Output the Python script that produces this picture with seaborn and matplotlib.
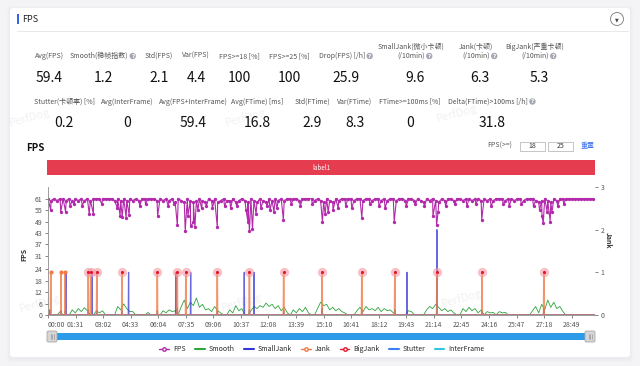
import numpy as np
import seaborn as sns
import matplotlib.pyplot as plt
from matplotlib.patches import Rectangle, FancyBboxPatch, Circle
from matplotlib.lines import Line2D

# ---- summary numbers ----
row1_labels = ['Avg(FPS)', 'Smooth(稳帧指数)', 'Std(FPS)', 'Var(FPS)', 'FPS>=18 [%]', 'FPS>=25 [%]',
               'Drop(FPS) [/h]', 'SmallJank(微小卡顿)\n(/10min)', 'Jank(卡顿)\n(/10min)', 'BigJank(严重卡顿)\n(/10min)']
row1_values = ['59.4', '1.2', '2.1', '4.4', '100', '100', '25.9', '9.6', '6.3', '5.3']
row1_help = [False, True, False, False, False, False, True, True, True, True]
row2_labels = ['Stutter(卡顿率) [%]', 'Avg(InterFrame)', 'Avg(FPS+InterFrame)', 'Avg(FTime) [ms]',
               'Std(FTime)', 'Var(FTime)', 'FTime>=100ms [%]', 'Delta(FTime)>100ms [/h]']
row2_values = ['0.2', '0', '59.4', '16.8', '2.9', '8.3', '0', '31.8']
row2_help = [False, False, False, False, False, False, False, True]

# ---- FPS: steady samples every 10 s, plus the single-second drops ----
fps_band = [61, 60, 61, 60, 61, 61, 60, 61, 60, 61,
            60, 61, 60, 61, 60, 61, 61, 61, 61, 61,
            61, 61, 60, 61, 60, 61, 60, 61, 60, 61,
            60, 61, 61, 61, 61, 61, 60, 61, 60, 61,
            60, 61, 59, 61, 60, 59, 61, 60, 59, 60,
            61, 60, 59, 61, 60, 61, 59, 60, 61, 60,
            60, 61, 59, 60, 61, 60, 59, 61, 60, 59,
            61, 60, 59, 61, 60, 61, 60, 61, 60, 61,
            61, 61, 61, 60, 61, 61, 61, 61, 60, 61,
            60, 59, 61, 60, 59, 61, 60, 61, 61, 61,
            61, 60, 61, 61, 60, 61, 61, 60, 61, 61,
            60, 61, 60, 61, 61, 60, 61, 61, 60, 61,
            61, 60, 61, 60, 59, 61, 60, 61, 60, 59,
            61, 60, 61, 61, 60, 61, 61, 60, 61, 61,
            60, 61, 61, 60, 61, 60, 61, 60, 61, 61,
            61, 60, 61, 61, 60, 61, 61, 60, 61, 61,
            61, 60, 59, 60, 61, 60, 59, 61, 60, 61,
            61, 61, 61, 61, 61, 61, 61, 61, 61, 61, 61]
band_step = 10
drop_sec = [9, 42, 58, 73, 86, 113, 136, 150, 178, 229, 238, 245, 258, 268, 303, 322, 362, 397, 417,
            427, 453, 462, 471, 480, 485, 495, 507, 523, 543, 559, 583, 603, 623, 654, 660, 665, 675,
            687, 703, 723, 733, 746, 756, 777, 803, 833, 873, 906, 915, 925, 941, 958, 983, 1003,
            1036, 1063, 1093, 1113, 1143, 1183, 1213, 1243, 1271, 1283, 1288, 1313, 1343, 1383, 1413,
            1432, 1463, 1503, 1523, 1563, 1603, 1623, 1631, 1635, 1648, 1658, 1664, 1683, 1703]
drop_fps = [55, 54, 54, 57, 58, 57, 53, 53, 58, 56, 52, 51.5, 51, 52.5, 57, 58, 52, 57, 58,
            47, 44, 52, 46.5, 48.5, 46, 55, 56, 57, 56, 46, 57, 56, 57, 55, 49, 44, 45,
            53, 56, 57, 55, 54, 56, 50, 58, 57, 58, 49, 53, 54, 55, 56, 57, 56,
            51, 58, 57, 56, 49, 57, 58, 57, 52, 47, 54, 57, 58, 57, 58,
            50, 57, 58, 57, 58, 57, 55, 52, 48, 54, 49, 54, 57, 58]

# ---- Smooth index (10 s samples) ----
smooth = [0, 0, 0, 0, 0.08, 0, 0, 0, 0.12, 0.05,
          0.15, 0.08, 0.17, 0.1, 0, 0, 0.1, 0.05, 0.1, 0,
          0, 0, 0, 0.2, 0.12, 0.26, 0.15, 0.08, 0.08, 0,
          0, 0, 0, 0.06, 0, 0, 0, 0, 0.1, 0.05,
          0.12, 0.08, 0.1, 0, 0.2, 0.35, 0.15, 0.3, 0.22, 0.4,
          0.18, 0.25, 0.12, 0.15, 0.08, 0.2, 0.1, 0.05, 0, 0,
          0.12, 0.05, 0.22, 0.1, 0.15, 0, 0, 0.1, 0.2, 0.15,
          0.22, 0.18, 0.28, 0.2, 0.25, 0.15, 0.22, 0.1, 0.18, 0.05,
          0, 0.12, 0.05, 0.15, 0.08, 0.18, 0.05, 0, 0, 0.15,
          0.3, 0.22, 0.25, 0.12, 0.18, 0.1, 0.15, 0.08, 0.05, 0,
          0, 0, 0.1, 0.18, 0.08, 0.2, 0.12, 0.15, 0.1, 0.18,
          0.08, 0.15, 0.1, 0.12, 0.05, 0, 0, 0, 0, 0.1,
          0.08, 0, 0, 0, 0, 0.12, 0.2, 0.15, 0.25, 0.18,
          0.1, 0.15, 0.08, 0.12, 0.05, 0, 0, 0.15, 0.08, 0.18,
          0.1, 0.15, 0.05, 0.12, 0, 0.08, 0.05, 0.06, 0, 0.08,
          0.05, 0.06, 0, 0, 0, 0, 0, 0, 0, 0,
          0.1, 0.2, 0.05, 0.25, 0.12, 0.35, 0.18, 0.3, 0.15, 0.2,
          0.08, 0, 0, 0, 0, 0, 0, 0, 0, 0, 0]

# ---- jank events (seconds) ----
jank_only_s = [9, 43, 57]
bigjank_s = [133, 141, 161, 244, 361, 427, 455, 559, 665, 778, 905, 1036, 1145, 1284, 1433, 1637]
smalljank_s = [59, 145, 266, 422, 471, 648, 680, 1185, 1284]
smalljank_h = [1, 1, 1, 1, 1, 1, 1, 1, 2]
stutter_s = [6, 43, 57, 133, 161, 244, 361, 427, 559, 665, 778, 905, 1036, 1145, 1284, 1433, 1637]
stutter_h = [0.12, 0.1, 0.1, 0.12, 0.1, 0.1, 0.1, 0.15, 0.1, 0.12, 0.1, 0.15, 0.1, 0.12, 0.15, 0.1, 0.15]

time_labels = ['00:00', '01:31', '03:02', '04:33', '06:04', '07:35', '09:06', '10:37', '12:08', '13:39',
               '15:10', '16:41', '18:12', '19:43', '21:14', '22:45', '24:16', '25:47', '27:18', '28:49']
fps_ticks = [0, 6, 12, 18, 24, 31, 37, 43, 49, 55, 61]
jank_ticks = [0, 1, 2, 3]
duration = 1806

C_FPS = '#b22aab'
C_SMOOTH = '#2ea43a'
C_SMALL = '#3535d8'
C_JANK = '#f27a46'
C_BIG = '#e8132c'
C_STUT = '#3d7ff2'
C_INTER = '#2fc6de'

sns.set_theme(style='white')
plt.rcParams['font.family'] = ['Noto Sans CJK SC', 'DejaVu Sans']

fig = plt.figure(figsize=(6.4, 3.66), dpi=100, facecolor='#f4f4f6')
ov = fig.add_axes([0, 0, 1, 1], zorder=0)
ov.set_xlim(0, 640)
ov.set_ylim(366, 0)
ov.axis('off')

# card
for i, a in enumerate([0.05, 0.05, 0.06]):
    ov.add_patch(FancyBboxPatch((10 - i - 1, 8 - i), 620 + 2 * i + 2, 350 + 2 * i + 2,
                                boxstyle='round,pad=0,rounding_size=4', fc='#c8c8d0', ec='none', alpha=a))
ov.add_patch(FancyBboxPatch((10, 8), 620, 349, boxstyle='round,pad=0,rounding_size=3', fc='white', ec='none'))
ov.add_patch(Rectangle((17, 14), 2, 10, fc='#3563f0', ec='none'))
ov.text(22, 19, 'FPS', fontsize=6.5, color='#222', va='center')
ov.plot([17, 628], [31, 31], color='#e8e8e8', lw=0.7)
ov.add_patch(Circle((617, 19), 6.5, fc='white', ec='#8a8a8a', lw=0.7))
ov.text(617, 19.5, '▼', fontsize=3.5, color='#444', ha='center', va='center', family='DejaVu Sans')

# watermarks
for wx, wy in [(30, 117), (246, 117), (457, 113), (40, 303), (242, 302), (462, 298)]:
    ov.text(wx, wy, 'PerfDog', fontsize=8, color='#f1f1f1', rotation=15, ha='center', va='center')

# stats
row1_x = [49, 103, 159, 196, 239, 289, 346, 415, 480, 539]
row2_x = [64, 127, 193, 257, 312, 355, 410, 492]
renderer = fig.canvas.get_renderer()
inv = ov.transData.inverted()


def help_icon(t):
    bb = t.get_window_extent(renderer=renderer)
    x0, y0 = inv.transform((bb.x1, (bb.y0 + bb.y1) / 2))
    ov.add_patch(Circle((x0 + 4.5, y0), 3.2, fc='#a3a8b3', ec='none'))
    ov.text(x0 + 4.5, y0 + 0.3, '?', fontsize=4, color='white', ha='center', va='center',
            family='DejaVu Sans', weight='bold')


def stat_row(labels, values, helps, xs, ylab, yval):
    for lab, val, hp, x in zip(labels, values, helps, xs):
        lines = lab.split('\n')
        off = 4 if hp else 0
        t = None
        for k, ln in enumerate(lines):
            yy = ylab - 9 * (len(lines) - 1 - k)
            t = ov.text(x - off, yy, ln, fontsize=5, color='#555', ha='center', va='center')
        if hp:
            help_icon(t)
        ov.text(x, yval, val, fontsize=10, color='#111', ha='center', va='center', weight='medium')


stat_row(row1_labels, row1_values, row1_help, row1_x, 56, 77.5)
stat_row(row2_labels, row2_values, row2_help, row2_x, 101.5, 123)

# chart header
ov.text(26, 148, 'FPS', fontsize=7, color='#111', weight='bold', va='center')
ov.text(512, 146, 'FPS(>=)', fontsize=5, color='#555', ha='right', va='center')
for bx, lab in [(520, '18'), (548, '25')]:
    ov.add_patch(Rectangle((bx, 141.5), 25, 9, fc='white', ec='#bbbbbb', lw=0.6))
    ov.text(bx + 12.5, 146, lab, fontsize=5, color='#333', ha='center', va='center')
ov.text(588, 146, '重置', fontsize=5, color='#3a6ff0', ha='center', va='center')

ov.add_patch(Rectangle((47, 160), 548, 15, fc='#e63c50', ec='none'))
ov.text(321, 167.5, 'label1', fontsize=4.5, color='white', ha='center', va='center')

# slider
ov.add_patch(FancyBboxPatch((52, 333), 538, 7, boxstyle='round,pad=0,rounding_size=2', fc='#2d9be8', ec='none'))
for hx in [47, 585]:
    ov.add_patch(FancyBboxPatch((hx, 331), 10, 11, boxstyle='round,pad=0,rounding_size=1.5',
                                fc='#d6d6d6', ec='#a8a8a8', lw=0.6))
    for dx in [3.5, 5, 6.5]:
        ov.plot([hx + dx, hx + dx], [334, 339], color='#8a8a8a', lw=0.4)

# ---- chart ----
ax = fig.add_axes([48 / 640, 51 / 366, 547 / 640, 128 / 366], zorder=2)
ax.set_facecolor('none')
ax2 = ax.twinx()

t_band = np.arange(len(fps_band)) * band_step
fps_t = np.concatenate([t_band, drop_sec])
fps_v = np.concatenate([fps_band, drop_fps])
t_smooth = np.arange(len(smooth)) * band_step
t_sec = np.arange(duration + 1)

jank = np.zeros(len(t_sec))
jank[jank_only_s + bigjank_s] = 1
small = np.zeros(len(t_sec))
small[smalljank_s] = smalljank_h
stut = np.zeros(len(t_sec))
stut[stutter_s] = stutter_h
inter = np.zeros(len(t_sec))

sns.lineplot(x=t_sec, y=inter, ax=ax2, color=C_INTER, lw=0.8, estimator=None)
sns.lineplot(x=t_smooth, y=smooth, ax=ax2, color=C_SMOOTH, lw=0.6, estimator=None)
sns.lineplot(x=t_sec, y=small, ax=ax2, color=C_SMALL, lw=0.9, alpha=0.75, estimator=None)
sns.lineplot(x=t_sec, y=stut, ax=ax2, color=C_STUT, lw=0.9, estimator=None)
sns.lineplot(x=t_sec, y=jank, ax=ax2, color=C_JANK, lw=1.1, alpha=0.8, estimator=None)
ax2.scatter(jank_only_s, np.ones(len(jank_only_s)), s=4, color=C_JANK, zorder=5)
ax2.scatter(bigjank_s, np.ones(len(bigjank_s)), s=45, color='#f29aa3', alpha=0.6, lw=0, zorder=5)
ax2.scatter(bigjank_s, np.ones(len(bigjank_s)), s=5, color=C_BIG, lw=0, zorder=6)

sns.lineplot(x=fps_t, y=fps_v, ax=ax, color=C_FPS, lw=0.8, marker='o', markersize=2.4,
             markeredgewidth=0, estimator=None, sort=True)

tick_pos = [int(s[:2]) * 60 + int(s[3:]) for s in time_labels]
ax.set_xlim(0, duration)
ax.set_xticks(tick_pos)
ax.set_xticklabels(time_labels)
ax.get_xticklabels()[0].set_horizontalalignment('left')
ax.set_ylim(0, 67.1)
ax.set_yticks(fps_ticks)
ax2.set_ylim(0, 3)
ax2.set_yticks(jank_ticks)
ax.set_xlabel('')
ax.set_ylabel('FPS', fontsize=5, color='#333', weight='bold')
ax.yaxis.set_label_coords(-0.038, 0.47)
ax2.set_ylabel('Jank', fontsize=5, color='#333', weight='bold', rotation=270)
ax2.yaxis.set_label_coords(1.031, 0.586)

for a in (ax, ax2):
    a.tick_params(labelsize=5, colors='#555', length=2, width=0.5, pad=2)
    for s in a.spines.values():
        s.set_visible(False)
ax.spines['left'].set_visible(True)
ax.spines['left'].set_color('#8c8c8c')
ax.spines['left'].set_linewidth(0.6)
ax.spines['bottom'].set_visible(True)
ax.spines['bottom'].set_color('#8c8c8c')
ax.spines['bottom'].set_linewidth(0.6)
ax.tick_params(axis='both', which='both', left=True, bottom=True)
ax2.tick_params(axis='y', right=True)

handles = [
    Line2D([], [], color=C_FPS, lw=1, marker='o', markersize=2.5, mfc='white'),
    Line2D([], [], color=C_SMOOTH, lw=1.5),
    Line2D([], [], color=C_SMALL, lw=1.5),
    Line2D([], [], color=C_JANK, lw=1, marker='o', markersize=2.5, mfc='white'),
    Line2D([], [], color=C_BIG, lw=1, marker='o', markersize=2.5, mfc='white'),
    Line2D([], [], color=C_STUT, lw=1.5),
    Line2D([], [], color=C_INTER, lw=1.5),
]
names = ['FPS', 'Smooth', 'SmallJank', 'Jank', 'BigJank', 'Stutter', 'InterFrame']
fig.legend(handles, names, loc='center', bbox_to_anchor=(322 / 640, 1 - 349 / 366), ncol=7,
           frameon=False, fontsize=5, handlelength=1.4, columnspacing=1.3, handletextpad=0.6)

fig.savefig('out.png', dpi=100, facecolor=fig.get_facecolor())
